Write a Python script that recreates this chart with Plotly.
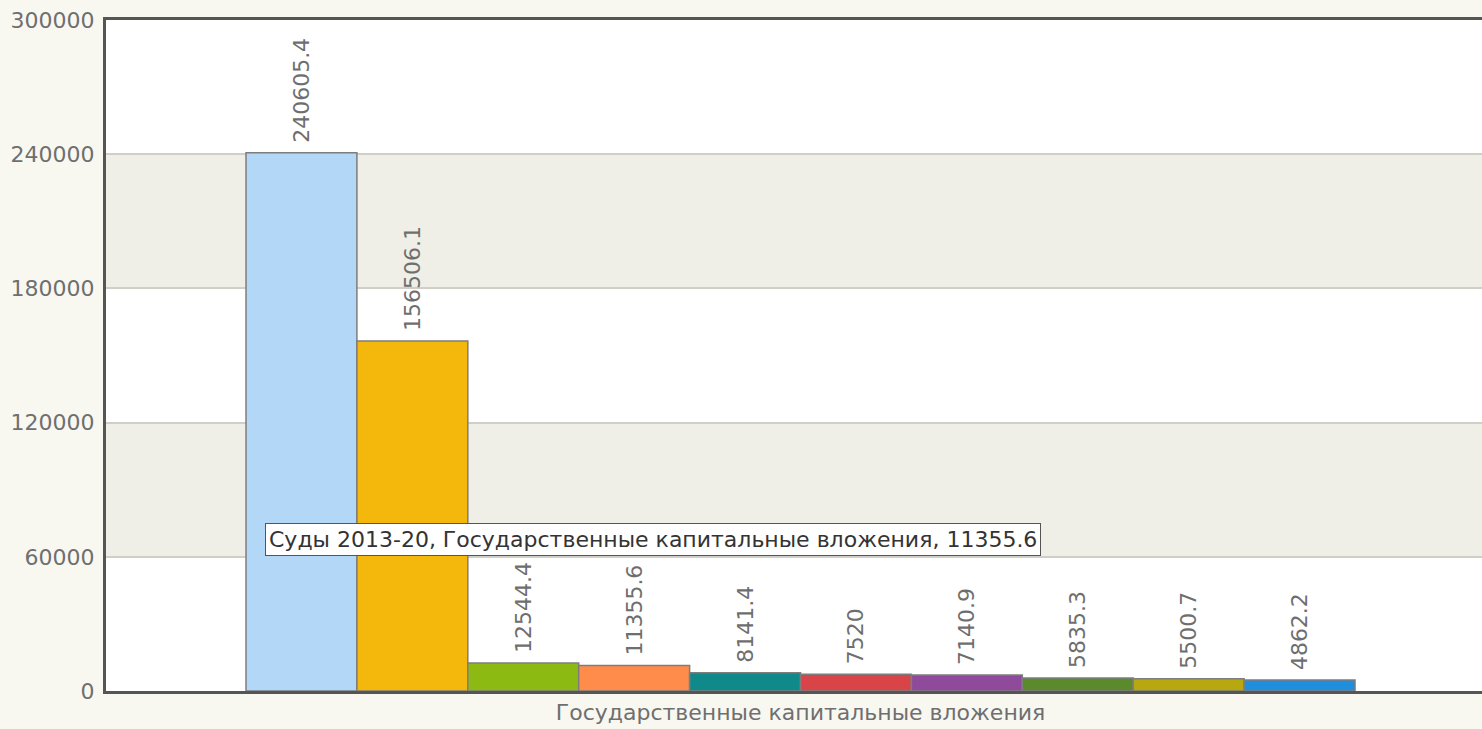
import plotly.graph_objects as go

category = ["Государственные капитальные вложения"]
series_names = ["Серия 1", "Серия 2", "Серия 3", "Суды 2013-20", "Серия 5",
                "Серия 6", "Серия 7", "Серия 8", "Серия 9", "Серия 10"]
values = [240605.4, 156506.1, 12544.4, 11355.6, 8141.4, 7520, 7140.9, 5835.3, 5500.7, 4862.2]
colors = ["#b2d7f7", "#f4b80c", "#8cba12", "#ff8c4a", "#10898b",
          "#d84447", "#8f4a9c", "#5b8a2c", "#b7a80f", "#1f8fdd"]
y_ticks = [0, 60000, 120000, 180000, 240000, 300000]
hover_index = 3

FONT = "DejaVu Sans, Verdana, sans-serif"
FS = 22

fig = go.Figure()
for name, v, c in zip(series_names, values, colors):
    fig.add_trace(go.Bar(
        x=category, y=[v], name=name,
        marker=dict(color=c, line=dict(color="#7d7d7d", width=1.5)),
        text=["\u00a0" + f"{v}"], textposition="outside", textangle=-90,
        constraintext="none", cliponaxis=False,
        textfont=dict(family=FONT, size=FS, color="#6e6e6e"),
    ))

shapes = []
for i in range(len(y_ticks) - 1):
    if i % 2 == 1:
        shapes.append(dict(type="rect", xref="paper", yref="y", x0=0, x1=1,
                           y0=y_ticks[i], y1=y_ticks[i + 1],
                           fillcolor="#efefe8", line=dict(width=0), layer="below"))

tip = f"{series_names[hover_index]}, {category[0]}, {values[hover_index]}"

fig.update_layout(
    width=1482, height=729,
    margin=dict(l=106, r=0, t=20, b=38),
    paper_bgcolor="#f8f8f1", plot_bgcolor="#ffffff",
    barmode="group", bargap=0.2, bargroupgap=0,
    showlegend=False,
    font=dict(family=FONT, size=FS, color="#6f6f6f"),
    shapes=shapes,
    annotations=[dict(
        xref="paper", yref="y", x=0.1156, y=67900, xanchor="left", yanchor="middle",
        text=tip, showarrow=False, bgcolor="#ffffff", bordercolor="#555555",
        borderwidth=1, borderpad=3, font=dict(family=FONT, size=FS, color="#333333"),
    )],
    xaxis=dict(type="category", range=[-0.501, 0.4916], showline=True, mirror=True,
               linecolor="#555555", linewidth=3, showgrid=False, ticks="",
               tickfont=dict(size=FS, color="#6f6f6f")),
    yaxis=dict(range=[0, 300000], tickvals=y_ticks, showline=True, linecolor="#555555",
               linewidth=3, showgrid=True, gridcolor="#cfcfc8", gridwidth=2,
               zeroline=False, ticks="", tickformat="d", ticklabelstandoff=4,
               tickfont=dict(size=FS, color="#6f6f6f")),
)

fig.write_html(
    "out.html",
    config={"displayModeBar": False},
    post_script=("document.body.style.margin='0';document.body.style.overflow='hidden';"
                 "document.body.style.background='#f8f8f1';"),
)
